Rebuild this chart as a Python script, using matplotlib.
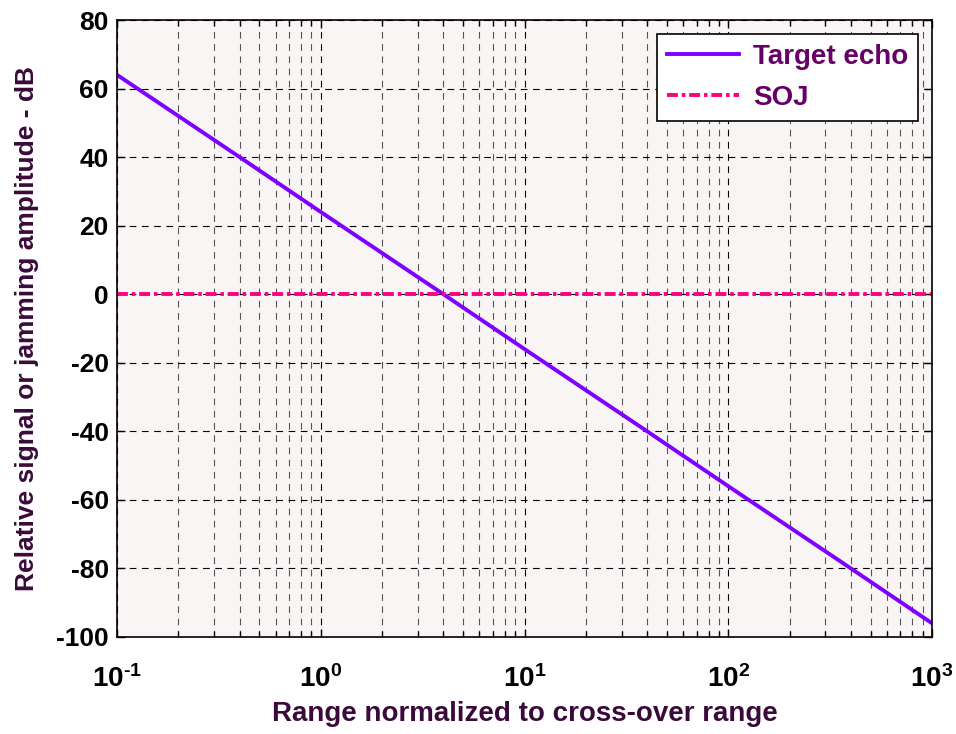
import matplotlib
matplotlib.use("Agg")
import matplotlib.pyplot as plt
from matplotlib.ticker import LogLocator, NullFormatter

# Target echo (R^-4) vs stand-off jammer (R^-2) relative amplitude
range_norm = [0.1, 0.4, 1.0, 4.0, 10.0, 40.0, 100.0, 400.0, 1000.0]
echo_db = [64.0, 40.0, 24.0, 0.0, -16.0, -40.0, -56.0, -80.0, -96.0]
soj_range = [0.1, 1000.0]
soj_db = [0.0, 0.0]

y_ticks = [-100, -80, -60, -40, -20, 0, 20, 40, 60, 80]
x_ticks = [0.1, 1, 10, 100, 1000]
x_tick_labels = [r"$\mathbf{10^{\text{-}1}}$", r"$\mathbf{10^{0}}$", r"$\mathbf{10^{1}}$",
                 r"$\mathbf{10^{2}}$", r"$\mathbf{10^{3}}$"]

plt.rcParams["font.family"] = ["Liberation Sans", "DejaVu Sans"]
plt.rcParams["mathtext.fontset"] = "custom"
plt.rcParams["mathtext.bf"] = "Liberation Sans:bold"
plt.rcParams["mathtext.rm"] = "Liberation Sans:bold"

fig = plt.figure(figsize=(9.56, 7.34), dpi=100)
ax = fig.add_axes([117 / 956, 1 - 637 / 734, (932 - 117) / 956, (637 - 20) / 734])
ax.set_facecolor("#f9f5f4")

ax.semilogx(range_norm, echo_db, color="#7f00ff", linewidth=2.8, label="Target echo")
ax.semilogx(soj_range, soj_db, color="#ff0080", linewidth=2.8, linestyle="-.",
            dashes=(2.8, 1.0, 0.9, 1.0), label="SOJ")

ax.set_xlim(0.1, 1000)
ax.set_ylim(-100, 80)
ax.set_yticks(y_ticks)
ax.set_yticklabels([str(v) for v in y_ticks], fontsize=19, fontweight="bold")
ax.set_xticks(x_ticks)
ax.set_xticklabels(x_tick_labels, fontsize=20)
ax.xaxis.set_minor_locator(LogLocator(base=10, subs=range(2, 10)))
ax.xaxis.set_minor_formatter(NullFormatter())

ax.grid(True, which="major", color="black", linestyle=(0, (6, 5)), linewidth=0.8)
ax.grid(True, which="minor", axis="x", color="#555555", linestyle=(0, (6, 5)),
        linewidth=0.8)
ax.tick_params(which="both", direction="in", top=True, right=True, length=6,
               width=1)
ax.tick_params(which="minor", length=4)
ax.tick_params(axis="x", pad=20)
ax.tick_params(axis="y", pad=6)
for spine in ax.spines.values():
    spine.set_linewidth(1.2)

ax.set_xlabel("Range normalized to cross-over range", fontsize=20,
              fontweight="bold", color="#3a0a3a", labelpad=6)
ax.set_ylabel("Relative signal or jamming amplitude - dB", fontsize=19,
              fontweight="bold", color="#3a0a3a", labelpad=12)

leg = ax.legend(loc="upper right", fontsize=20, fancybox=False, framealpha=1,
                edgecolor="black", handlelength=2.6, handletextpad=0.5,
                borderpad=0.35, labelspacing=0.55, borderaxespad=0.5)
leg.get_frame().set_linewidth(1.2)
for txt in leg.get_texts():
    txt.set_color("#660066")
    txt.set_fontweight("bold")

fig.savefig("out.png", dpi=100)
